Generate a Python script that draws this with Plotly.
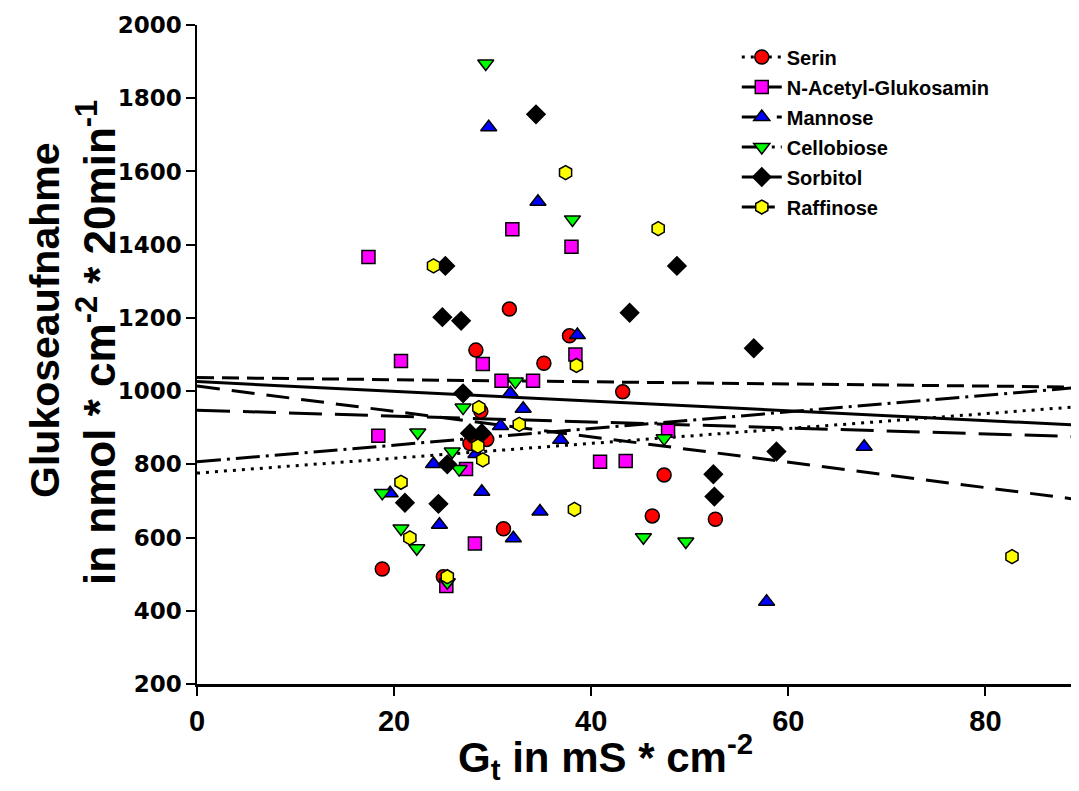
import numpy as np
import plotly.graph_objects as go

# ---- data ----
serin_x = [18.8, 25.0, 27.7, 28.3, 28.8, 29.4, 31.1, 31.7, 35.2, 37.8, 43.2, 46.2, 47.4, 52.6]
serin_y = [514, 493, 857, 1112, 945, 868, 624, 1224, 1076, 1151, 998, 659, 771, 650]

nag_x = [17.4, 20.7, 18.4, 25.3, 27.3, 28.2, 29.0, 30.9, 32.0, 34.1, 38.0, 38.4, 40.9, 43.5, 47.8]
nag_y = [1366, 1082, 878, 468, 787, 584, 1074, 1028, 1442, 1028, 1394, 1100, 807, 809, 892]

mannose_x = [19.6, 24.0, 24.6, 28.3, 28.9, 29.6, 30.8, 31.8, 32.1, 33.1, 34.6, 34.8, 36.9, 38.6, 57.8, 67.7]
mannose_y = [721, 801, 635, 828, 725, 1721, 905, 994, 598, 952, 1517, 671, 867, 1153, 425, 848]

cello_x = [18.8, 20.7, 22.3, 22.4, 25.4, 25.9, 26.6, 27.0, 29.3, 32.3, 38.1, 45.3, 47.4, 49.6]
cello_y = [722, 625, 571, 887, 478, 835, 787, 955, 1895, 1026, 1469, 601, 871, 589]

sorbitol_x = [21.1, 24.5, 25.2, 24.9, 26.8, 25.4, 27.0, 27.7, 28.9, 34.4, 43.9, 48.7, 52.4, 52.5, 56.5, 58.8]
sorbitol_y = [695, 692, 1342, 1202, 1192, 800, 994, 885, 885, 1756, 1214, 1342, 773, 712, 1117, 835]

raff_x = [20.7, 21.6, 24.0, 25.4, 28.5, 28.6, 29.0, 32.7, 37.4, 38.3, 38.5, 46.8, 82.7]
raff_y = [751, 599, 1342, 493, 850, 955, 812, 909, 1597, 677, 1070, 1444, 548]

series_names = ["Serin", "N-Acetyl-Glukosamin", "Mannose", "Cellobiose", "Sorbitol", "Raffinose"]
# regression lines (intercept, slope)
reg_intercepts = [776, 1026, 1014, 807, 1037, 948]
reg_slopes = [2.03, -1.33, -3.47, 2.27, -0.29, -0.81]

x_ticks = [0, 20, 40, 60, 80]
y_ticks = [200, 400, 600, 800, 1000, 1200, 1400, 1600, 1800, 2000]
x_range = [0, 89.5]
y_range = [200, 2000]

x_title = "G<sub>t</sub> in mS * cm<sup>-2</sup>"
y_title_1 = "Glukoseaufnahme"
y_title_2 = "in nmol * cm<sup>-2</sup> * 20min<sup>-1</sup>"

# ---- styles ----
xs_all = [serin_x, nag_x, mannose_x, cello_x, sorbitol_x, raff_x]
ys_all = [serin_y, nag_y, mannose_y, cello_y, sorbitol_y, raff_y]
colors = ["#FF0000", "#FF00FF", "#0000FF", "#00FF00", "#000000", "#FFFF00"]
symbols = ["circle", "square", "triangle-up", "triangle-down", "diamond", "hexagon"]
sizes = [14, 13, 14, 14, 14, 14]
dashes = ["3px,6px", "solid", "23px,12px", "24px,6px,3px,6px", "17px,8px", "33px,13px"]

fig = go.Figure()

line_x = np.array(x_range)
for i, name in enumerate(series_names):
    fig.add_trace(go.Scatter(
        x=line_x, y=reg_intercepts[i] + reg_slopes[i] * line_x,
        mode="lines", line=dict(color="black", width=3, dash=dashes[i]),
        showlegend=False, hoverinfo="skip"))

for i, name in enumerate(series_names):
    fig.add_trace(go.Scatter(
        x=xs_all[i], y=ys_all[i], mode="markers", name=name, showlegend=False,
        marker=dict(symbol=symbols[i], size=sizes[i], color=colors[i],
                    line=dict(color="black", width=1.5)),
        cliponaxis=False))

# legend-only entries (marker + line sample)
for i, name in enumerate(series_names):
    fig.add_trace(go.Scatter(
        x=[None], y=[None], mode="lines+markers", name=name, legendgroup=name,
        marker=dict(symbol=symbols[i], size=sizes[i], color=colors[i],
                    line=dict(color="black", width=1.5)),
        line=dict(color="black", width=3, dash=dashes[i])))

sans = "Liberation Sans, Arial, sans-serif"

fig.update_layout(
    width=1071, height=783,
    margin=dict(l=189, r=0, t=17, b=107),
    paper_bgcolor="white", plot_bgcolor="white",
    showlegend=True,
    legend=dict(x=0.612, y=0.981, xanchor="left", yanchor="top",
                font=dict(family=sans, size=20, color="black", weight="bold"),
                bgcolor="rgba(0,0,0,0)", tracegroupgap=1, itemwidth=40),
    xaxis=dict(range=x_range, tickvals=x_ticks, showgrid=False, zeroline=False,
               automargin=False,
               showline=True, linecolor="black", linewidth=2.5,
               ticks="outside", ticklen=9, tickwidth=1.5, tickcolor="black",
               tickfont=dict(family=sans, size=29, color="black", weight="bold")),
    yaxis=dict(range=y_range, tickvals=y_ticks, showgrid=False, zeroline=False,
               automargin=False,
               showline=True, linecolor="black", linewidth=1.5,
               ticks="outside", ticklen=9, tickwidth=1.5, tickcolor="black",
               tickfont=dict(family="DejaVu Sans, sans-serif", size=23, color="black", weight="bold")),
    annotations=[
        dict(text=x_title, xref="paper", yref="paper", x=0.4626, y=-0.11,
             xanchor="center", yanchor="middle", showarrow=False,
             font=dict(family=sans, size=42, color="black", weight="bold")),
        dict(text=y_title_1, xref="paper", yref="paper", x=-0.1723, y=0.551,
             xanchor="center", yanchor="middle", showarrow=False, textangle=-90,
             font=dict(family=sans, size=41, color="black", weight="bold")),
        dict(text=y_title_2, xref="paper", yref="paper", x=-0.1134, y=0.519,
             xanchor="center", yanchor="middle", showarrow=False, textangle=-90,
             font=dict(family=sans, size=44, color="black", weight="bold")),
    ],
)

fig.write_html("out.html")
